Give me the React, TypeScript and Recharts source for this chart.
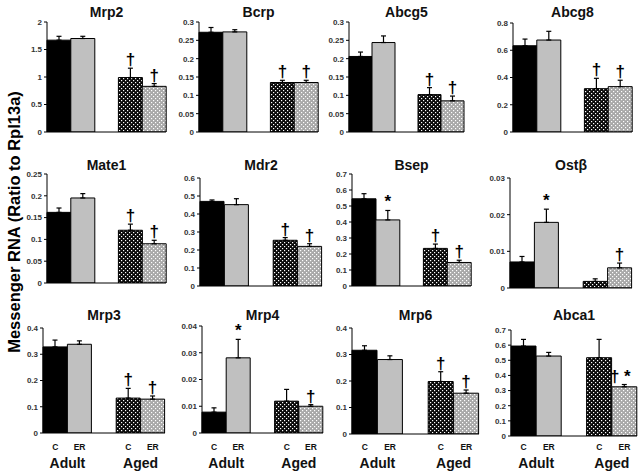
import React from 'react';
import {
  BarChart,
  Bar,
  Cell,
  XAxis,
  YAxis,
  ErrorBar,
  LabelList,
} from 'recharts';

// ─── Data ─────────────────────────────────────────────────────────────────────

const GROUPS = ['adultC', 'adultER', 'gap', 'agedC', 'agedER'];
const X_LABELS = ['C', 'ER', '', 'C', 'ER'];
const GROUP_LABELS = ['Adult', '', '', 'Aged', ''];

const TITLES = ['Mrp2', 'Bcrp', 'Abcg5', 'Abcg8', 'Mate1', 'Mdr2', 'Bsep', 'Ostβ', 'Mrp3', 'Mrp4', 'Mrp6', 'Abca1'];

const mrp2Values = [1.67, 1.70, 0.99, 0.83];
const mrp2Errors = [0.07, 0.04, 0.17, 0.05];
const mrp2Marks = ['', '', '†', '†'];
const mrp2Ticks = [0, 0.5, 1, 1.5, 2];

const bcrpValues = [0.272, 0.273, 0.135, 0.135];
const bcrpErrors = [0.013, 0.006, 0.006, 0.006];
const bcrpMarks = ['', '', '†', '†'];
const bcrpTicks = [0, 0.05, 0.1, 0.15, 0.2, 0.25, 0.3];

const abcg5Values = [0.206, 0.244, 0.102, 0.085];
const abcg5Errors = [0.012, 0.018, 0.019, 0.013];
const abcg5Marks = ['', '', '†', '†'];
const abcg5Ticks = [0, 0.05, 0.1, 0.15, 0.2, 0.25, 0.3];

const abcg8Values = [0.633, 0.675, 0.318, 0.333];
const abcg8Errors = [0.049, 0.064, 0.076, 0.047];
const abcg8Marks = ['', '', '†', '†'];
const abcg8Ticks = [0, 0.2, 0.4, 0.6, 0.8];

const mate1Values = [0.162, 0.195, 0.121, 0.090];
const mate1Errors = [0.010, 0.010, 0.014, 0.008];
const mate1Marks = ['', '', '†', '†'];
const mate1Ticks = [0, 0.05, 0.1, 0.15, 0.2, 0.25];

const mdr2Values = [0.470, 0.452, 0.254, 0.220];
const mdr2Errors = [0.008, 0.033, 0.015, 0.015];
const mdr2Marks = ['', '', '†', '†'];
const mdr2Ticks = [0, 0.1, 0.2, 0.3, 0.4, 0.5, 0.6];

const bsepValues = [0.545, 0.413, 0.235, 0.147];
const bsepErrors = [0.032, 0.059, 0.027, 0.014];
const bsepMarks = ['', '*', '†', '†'];
const bsepTicks = [0, 0.1, 0.2, 0.3, 0.4, 0.5, 0.6, 0.7];

const ostbValues = [0.0071, 0.0179, 0.0018, 0.0055];
const ostbErrors = [0.0015, 0.0036, 0.0007, 0.0013];
const ostbMarks = ['', '*', '', '†'];
const ostbTicks = [0, 0.01, 0.02, 0.03];

const mrp3Values = [0.328, 0.338, 0.133, 0.129];
const mrp3Errors = [0.026, 0.013, 0.037, 0.012];
const mrp3Marks = ['', '', '†', '†'];
const mrp3Ticks = [0, 0.1, 0.2, 0.3, 0.4];

const mrp4Values = [0.0078, 0.0281, 0.0119, 0.0100];
const mrp4Errors = [0.0016, 0.0069, 0.0044, 0.0006];
const mrp4Marks = ['', '*', '', '†'];
const mrp4Ticks = [0, 0.01, 0.02, 0.03, 0.04];

const mrp6Values = [0.316, 0.281, 0.198, 0.154];
const mrp6Errors = [0.017, 0.014, 0.037, 0.012];
const mrp6Marks = ['', '', '†', '†'];
const mrp6Ticks = [0, 0.1, 0.2, 0.3, 0.4];

const abca1Values = [0.594, 0.528, 0.517, 0.325];
const abca1Errors = [0.044, 0.024, 0.121, 0.015];
const abca1Marks = ['', '', '', '†*'];
const abca1Ticks = [0, 0.1, 0.2, 0.3, 0.4, 0.5, 0.6, 0.7];

const PANEL_DATA = [
  [mrp2Values, mrp2Errors, mrp2Marks, mrp2Ticks],
  [bcrpValues, bcrpErrors, bcrpMarks, bcrpTicks],
  [abcg5Values, abcg5Errors, abcg5Marks, abcg5Ticks],
  [abcg8Values, abcg8Errors, abcg8Marks, abcg8Ticks],
  [mate1Values, mate1Errors, mate1Marks, mate1Ticks],
  [mdr2Values, mdr2Errors, mdr2Marks, mdr2Ticks],
  [bsepValues, bsepErrors, bsepMarks, bsepTicks],
  [ostbValues, ostbErrors, ostbMarks, ostbTicks],
  [mrp3Values, mrp3Errors, mrp3Marks, mrp3Ticks],
  [mrp4Values, mrp4Errors, mrp4Marks, mrp4Ticks],
  [mrp6Values, mrp6Errors, mrp6Marks, mrp6Ticks],
  [abca1Values, abca1Errors, abca1Marks, abca1Ticks],
] as const;

// ─── Layout (plot box of each panel, page pixels) ─────────────────────────────

const LAYOUT = [
  { left: 47, right: 166, top: 22, bottom: 132, titleY: 12 },
  { left: 199, right: 318, top: 22, bottom: 132, titleY: 12 },
  { left: 349, right: 464, top: 22, bottom: 132, titleY: 12 },
  { left: 513, right: 632, top: 23, bottom: 132, titleY: 12 },
  { left: 47, right: 166, top: 174, bottom: 283, titleY: 165 },
  { left: 200, right: 322, top: 178, bottom: 286, titleY: 165 },
  { left: 352, right: 471, top: 174, bottom: 286, titleY: 165 },
  { left: 510, right: 632, top: 178, bottom: 288, titleY: 165 },
  { left: 43, right: 165, top: 328, bottom: 433, titleY: 315 },
  { left: 202, right: 323, top: 326, bottom: 433, titleY: 315 },
  { left: 352, right: 479, top: 328, bottom: 434, titleY: 315 },
  { left: 511, right: 637, top: 330, bottom: 436, titleY: 315 },
];

// baselines (page y) of the bottom-row category labels
const SUB_LABEL_Y = 450;
const GROUP_LABEL_Y = 468;

const FONT = 'Arial, "Liberation Sans", Helvetica, sans-serif';
const FILLS = ['#000000', '#c0c0c0', 'none', 'url(#hatchDark)', 'url(#hatchLight)'];
const Y_AXIS_W = 30;
const TOP_PAD = 6;

interface Row {
  g: string;
  v: number | null;
  err: number | null;
  mark: string;
}

function buildRows(values: readonly number[], errors: readonly number[], marks: readonly string[]): Row[] {
  const rows: Row[] = [];
  let k = 0;
  for (const g of GROUPS) {
    if (g === 'gap') {
      rows.push({ g, v: null, err: null, mark: '' });
    } else {
      rows.push({ g, v: values[k], err: errors[k], mark: marks[k] });
      k++;
    }
  }
  return rows;
}

// ─── Ticks & labels ───────────────────────────────────────────────────────────

function makeCategoryTick(slot: number, axisPageY: number) {
  return function CategoryTick(props: any) {
    const { x, y, payload } = props;
    const i = GROUPS.indexOf(payload.value);
    return (
      <g>
        <text x={x} y={y + SUB_LABEL_Y - axisPageY} textAnchor="middle" fontSize={8.5} fontWeight="bold" fontFamily={FONT} fill="#111">
          {X_LABELS[i]}
        </text>
        {GROUP_LABELS[i] && (
          <text x={x + slot / 2} y={y + GROUP_LABEL_Y - axisPageY} textAnchor="middle" fontSize={14} fontWeight="bold" fontFamily={FONT} fill="#111">
            {GROUP_LABELS[i]}
          </text>
        )}
      </g>
    );
  };
}

// label value is "mark|value|error" so it does not depend on the entry index
const markKey = (d: Row) => (d.v == null ? '' : `${d.mark}|${d.v}|${d.err}`);

function renderMark(p: any) {
  const vb = p.viewBox ?? p;
  const [mark, vs, es] = String(p.value ?? '').split('|');
  if (!mark) return null;
  const v = Number(vs);
  const err = Number(es);
  const { x, y, width, height } = vb;
  const errPx = (err * Math.abs(height)) / v;
  const double = mark === '†*';
  return (
    <text
      x={x + width / 2 - (double ? 4 : 0)}
      y={y - errPx - 3}
      textAnchor="middle"
      fontSize={17}
      fontWeight="bold"
      fontFamily={FONT}
      fill="#000"
    >
      {double ? '† *' : mark}
    </text>
  );
}

// ─── Panel ────────────────────────────────────────────────────────────────────

function Panel({ index }: { index: number }): React.ReactElement {
  const [values, errors, marks, ticks] = PANEL_DATA[index];
  const box = LAYOUT[index];
  const rows = buildRows(values, errors, marks);
  const showX = index >= 8;
  const plotW = box.right - box.left;
  const plotH = box.bottom - box.top;
  const xAxisH = showX ? 472 - box.bottom : 8;
  const width = Y_AXIS_W + plotW + 6;
  const height = TOP_PAD + plotH + xAxisH;

  return (
    <>
      <div
        style={{
          position: 'absolute',
          left: box.left,
          width: plotW,
          top: box.titleY - 8,
          lineHeight: '16px',
          textAlign: 'center',
          fontFamily: FONT,
          fontWeight: 'bold',
          fontSize: 14,
          color: '#111',
        }}
      >
        {TITLES[index]}
      </div>
      <div style={{ position: 'absolute', left: box.left - Y_AXIS_W, top: box.top - TOP_PAD }}>
        <BarChart
          width={width}
          height={height}
          data={rows}
          margin={{ top: TOP_PAD, right: 6, left: 0, bottom: 0 }}
          barCategoryGap={0}
          barGap={0}
        >
          <XAxis
            dataKey="g"
            axisLine={{ stroke: '#000', strokeWidth: 1 }}
            tickLine={false}
            tickSize={0}
            tickMargin={0}
            tick={showX ? makeCategoryTick(plotW / 5, box.bottom) : false}
            height={xAxisH}
            interval={0}
          />
          <YAxis
            width={Y_AXIS_W}
            domain={[0, ticks[ticks.length - 1]]}
            ticks={[...ticks]}
            interval={0}
            allowDataOverflow
            axisLine={{ stroke: '#000', strokeWidth: 1 }}
            tickLine={{ stroke: '#000' }}
            tickSize={3}
            tickMargin={2}
            tick={{ fontSize: 8, fontWeight: 'bold', fill: '#333', fontFamily: FONT }}
          />
          <Bar dataKey="v" isAnimationActive={false} stroke="#000" strokeWidth={1}>
            {rows.map((r, i) => (
              <Cell key={`cell-${i}`} fill={FILLS[i]} stroke="#000" />
            ))}
            <ErrorBar
              dataKey={(d: Row) => (d.err == null ? [0, 0] : [0, d.err])}
              width={2.5}
              stroke="#000"
              strokeWidth={1.2}
              direction="y"
            />
            <LabelList dataKey={markKey} content={renderMark} />
          </Bar>
        </BarChart>
      </div>
    </>
  );
}

// ─── App ──────────────────────────────────────────────────────────────────────

export default function App(): React.ReactElement {
  return (
    <div style={{ position: 'absolute', left: 0, top: 0, width: 640, height: 472, background: '#fff', overflow: 'hidden' }}>
      <svg width={640} height={472} style={{ position: 'absolute', left: 0, top: 0 }}>
        <defs>
          <pattern id="hatchDark" patternUnits="userSpaceOnUse" width={4} height={4}>
            <rect width={4} height={4} fill="#0a0a0a" />
            <rect x={0} y={0} width={1.2} height={1.2} fill="#fff" />
            <rect x={2} y={2} width={1.2} height={1.2} fill="#fff" />
          </pattern>
          <pattern id="hatchLight" patternUnits="userSpaceOnUse" width={4} height={4}>
            <rect width={4} height={4} fill="#a8a8a8" />
            <rect x={0} y={0} width={1.2} height={1.2} fill="#fff" />
            <rect x={2} y={2} width={1.2} height={1.2} fill="#fff" />
          </pattern>
        </defs>
        <text
          transform="translate(20, 222) rotate(-90)"
          textAnchor="middle"
          fontSize={16.5}
          fontWeight="bold"
          fontFamily={FONT}
          fill="#000"
        >
          Messenger RNA (Ratio to Rpl13a)
        </text>
      </svg>
      {TITLES.map((_, i) => (
        <Panel key={i} index={i} />
      ))}
    </div>
  );
}
